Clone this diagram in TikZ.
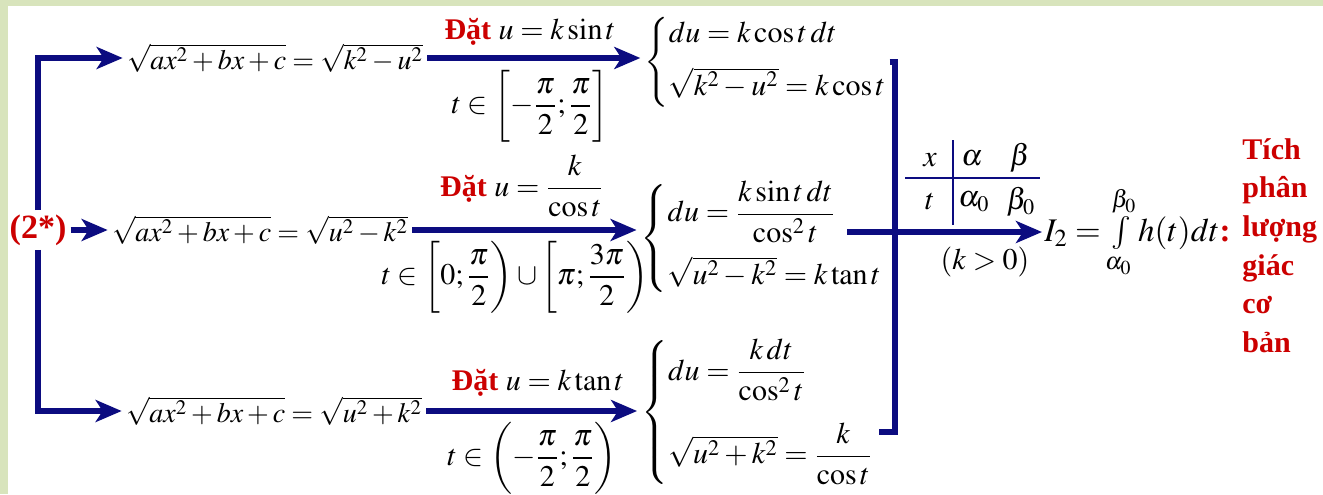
\documentclass[tikz,border=0pt]{standalone}
\usepackage{amsmath}
\usepackage{mathptmx}
\usepackage{fontspec}
\setmainfont{Liberation Serif}
\usetikzlibrary{arrows.meta,positioning}
\definecolor{navy}{RGB}{12,12,128}
\definecolor{dred}{RGB}{204,0,0}
\definecolor{framegreen}{RGB}{216,228,188}
\tikzset{
  arr/.style={draw=navy, line width=2.6pt, -{Stealth[length=13pt,width=11pt,inset=3.5pt]}},
  bar/.style={draw=navy, line width=2.6pt},
  rule/.style={draw=navy, line width=0.8pt},
  expr/.style={font=\fontsize{14}{17}\selectfont},
  hl/.style={text=dred, font=\fontsize{15}{19.3}\selectfont\bfseries},
}
\newcommand{\dat}{\textcolor{dred}{\textbf{Đặt}}}
\newcommand{\sys}[1]{\left\{\begin{array}{@{}l@{}}#1\end{array}\right.}

\begin{document}
\begin{tikzpicture}[x=0.5pt, y=-0.5pt, font=\fontsize{15}{18}\selectfont, inner sep=2pt]
  \fill[framegreen] (0,0) rectangle (1323,494);          % frame
  \fill[white] (8,6) rectangle (1323,494);
  \useasboundingbox (0,0) rectangle (1323,494);

  \node[hl, font=\fontsize{17}{20}\selectfont\bfseries] (src) at (38,230) {(2*)};
  \node[expr] (e1) at (275,58) {$\sqrt{ax^2+bx+c}=\sqrt{k^2-u^2}$};
  \node[expr] (e2) at (260,230) {$\sqrt{ax^2+bx+c}=\sqrt{u^2-k^2}$};
  \node[expr] (e3) at (274,411) {$\sqrt{ax^2+bx+c}=\sqrt{u^2+k^2}$};

  % substitutions
  \node (s1) at (765,62) {$\Biggl\{\begin{array}{@{}l@{}}du=k\cos t\,dt\\[7pt] \sqrt{k^2-u^2}=k\cos t\end{array}$};
  \node (s2) at (762,238) {$\sys{du=\dfrac{k\sin t\,dt}{\cos^2 t}\\[12pt] \sqrt{u^2-k^2}=k\tan t}$};
  \node (s3) at (758,412) {$\sys{du=\dfrac{k\,dt}{\cos^2 t}\\[16pt] \sqrt{u^2+k^2}=\dfrac{k}{\cos t}}$};

  \node (t1) at (530,32) {\dat\ $u=k\sin t$};
  \node (d1) at (530,106) {$t\in\biggl[-\dfrac{\pi}{2};\dfrac{\pi}{2}\biggr]$};
  \node (t2) at (522,186) {\dat\ $u=\dfrac{k}{\cos t}$};
  \node (d2) at (515,277) {$t\in\biggl[0;\dfrac{\pi}{2}\biggr)\cup\biggl[\pi;\dfrac{3\pi}{2}\biggr)$};
  \node (t3) at (538,383) {\dat\ $u=k\tan t$};
  \node (d3) at (532,458) {$t\in\biggl(-\dfrac{\pi}{2};\dfrac{\pi}{2}\biggr)$};

  \draw[arr] (src.north) |- (e1.west);
  \draw[arr] (src.east) -- (e2.west);
  \draw[arr] (src.south) |- (e3.west);
  \draw[arr] (e1.east) -- (e1.east -| s1.west);
  \draw[arr] (e2.east) -- (e2.east -| s2.west);
  \draw[arr] (e3.east) -- (e3.east -| s3.west);

  % bracket joining the three cases
  \coordinate (jt) at (895,62);
  \coordinate (jb) at (895,432);
  \coordinate (m0) at (847,232);
  \draw[bar] (s1.east |- jt) -- (jt) -- (jb) -- (s3.east |- jb);

  % bounds table
  \node (tx) at (930,160) {$x$};
  \node (ta) at (972,158) {$\alpha$};
  \node (tb) at (1020,158) {$\beta$};
  \node (tt) at (930,202) {$t$};
  \node (ta0) at (974,202) {$\alpha_0$};
  \node (tb0) at (1021,202) {$\beta_0$};
  \draw[rule] (905,178) -- (1040,178);
  \draw[rule] (953,140) -- (953,225);
  \node (kc) at (985,262) {$(k>0)$};

  \node[anchor=west, inner sep=1pt, font=\fontsize{16.5}{20}\selectfont] (res) at (1042,232) {$I_2=\int\limits_{\alpha_0}^{\beta_0} h(t)dt$\textcolor{dred}{\textbf{:}}};
  \draw[arr] (m0) -- (res.west);

  \node[hl, align=left, anchor=north west] (note) at (1238,134) {Tích\\phân\\lượng\\giác\\cơ\\bản};
\end{tikzpicture}
\end{document}
